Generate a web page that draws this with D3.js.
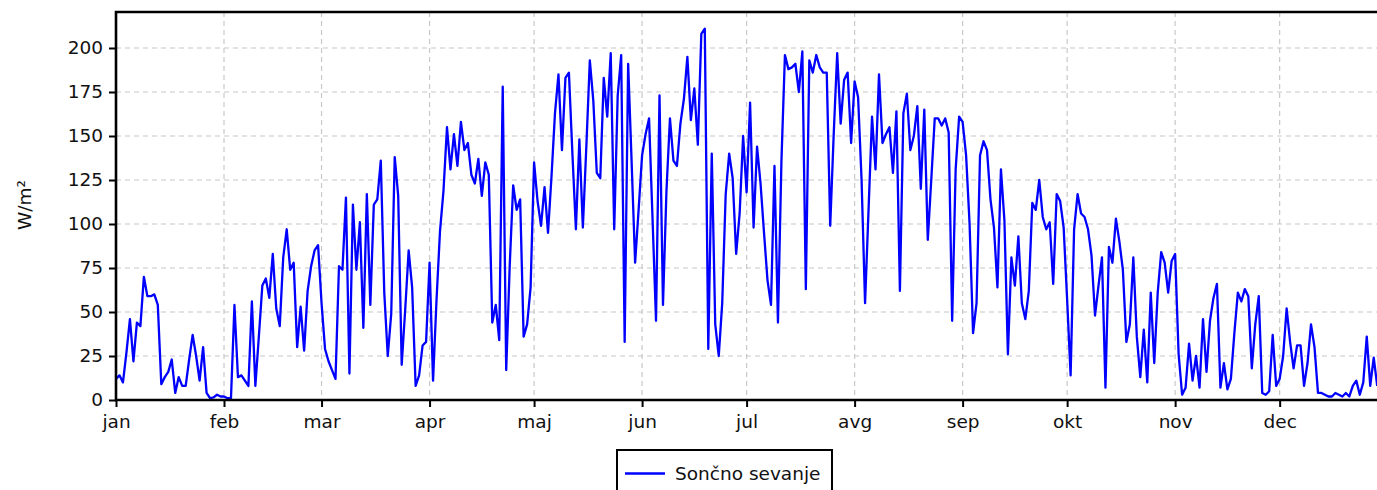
<!DOCTYPE html>
<html><head><meta charset="utf-8">
<script src="https://cdn.jsdelivr.net/npm/d3@7"></script>
<style>html,body{margin:0;padding:0;background:#fff;overflow:hidden;}svg{display:block;}</style>
</head><body>
<svg id="c" width="1377" height="490"></svg>
<script>
const seriesName = "Sončno sevanje";
const yTitle = "W/m²";
const monthLabels = ["jan","feb","mar","apr","maj","jun","jul","avg","sep","okt","nov","dec"];
const yTicks = [0,25,50,75,100,125,150,175,200];
const startYear = 2023;
const radiation = [
12,14,10,27,46,22,44,42,70,59,59,60,54,9,13,16,23,4,13,8,8,23,37,25,11,30,4,1,1.5,3,2,
2,1,1,54,13,14,11,8,56,8,36,65,69,58,83,52,42,81,97,74,78,30,53,28,62,76,85,88,
55,29,22,17,12,76,74,115,15,111,74,101,41,117,54,111,114,136,61,25,49,138,116,20,51,85,64,8,14,31,33,
78,11,57,96,119,155,131,151,133,158,142,146,128,123,137,116,135,128,44,54,34,178,17,76,122,108,114,36,43,64,
135,113,99,121,95,127,163,185,142,183,186,140,97,148,98,144,193,170,129,126,183,161,197,97,173,196,33,191,135,78,108,
139,151,160,103,45,173,54,119,160,136,133,157,171,195,159,177,145,208,211,29,140,43,25,55,117,140,126,83,106,150,
118,169,98,144,123,95,68,54,133,44,136,196,188,189,191,175,198,63,193,186,196,189,186,186,99,151,197,157,182,186,146,
181,172,125,55,108,161,131,185,146,151,155,129,164,62,163,174,142,150,167,120,165,91,125,160,160,156,160,152,45,131,161,
158,139,100,38,55,139,147,142,114,98,64,131,102,26,81,65,93,55,46,62,112,108,125,104,97,101,66,117,113,98,
57,14,97,117,106,104,97,82,48,65,81,7,87,78,103,90,74,33,43,81,36,13,40,10,61,21,61,84,78,61,79,
83,26,3,7,32,11,25,7,46,16,45,58,66,7,21,6,12,38,61,56,63,59,18,43,59,4,3,5,37,8,
12,25,52,33,18,31,31,8,21,43,30,4,4,3,2,2,4,3,2,4,2,8,11,3,10,36,8,24,8
];

const svg = d3.select("#c");
const FONT = "Verdana, DejaVu Sans, sans-serif";
const FS = 18.5;
const plotLeft = 116, plotTop = 12, plotBottom = 400;
const pxPerDay = 3.484;
const x = d3.scaleUtc()
  .domain([new Date(Date.UTC(startYear,0,1)), new Date(Date.UTC(startYear,11,31))])
  .range([plotLeft, plotLeft + 364*pxPerDay]);
const y = d3.scaleLinear().domain([0, 220.45]).range([plotBottom, plotTop]);
const plotRight = x.range()[1];

const monthDates = monthLabels.map((m,i)=>new Date(Date.UTC(startYear,i,1)));

// grid
const grid = svg.append("g").attr("stroke","#c8c8c8").attr("stroke-width",1.2).attr("stroke-dasharray","5,4");
grid.selectAll("line.h").data(yTicks.filter(v=>v>0)).join("line").attr("class","h")
  .attr("x1",plotLeft).attr("x2",plotRight).attr("y1",d=>y(d)).attr("y2",d=>y(d));
grid.selectAll("line.v").data(monthDates.slice(1)).join("line").attr("class","v")
  .attr("x1",d=>x(d)).attr("x2",d=>x(d)).attr("y1",plotTop).attr("y2",plotBottom);

// line
const data = radiation.map((v,i)=>({d:new Date(Date.UTC(startYear,0,1+i)), v}));
svg.append("path").datum(data)
  .attr("fill","none").attr("stroke","#0000ff").attr("stroke-width",2.3).attr("stroke-linejoin","round")
  .attr("d", d3.line().x(p=>x(p.d)).y(p=>y(p.v)));

// axes
const yAxis = svg.append("g").attr("transform",`translate(${plotLeft},0)`)
  .call(d3.axisLeft(y).tickValues(yTicks).tickSize(7).tickPadding(6));
const xAxis = svg.append("g").attr("transform",`translate(0,${plotBottom})`)
  .call(d3.axisBottom(x).tickValues(monthDates).tickFormat((d,i)=>monthLabels[i]).tickSize(7).tickPadding(8));
[yAxis,xAxis].forEach(a=>{
  a.select(".domain").remove();
  a.selectAll(".tick line").attr("stroke","#000").attr("stroke-width",2);
  a.selectAll(".tick text").attr("font-family",FONT).attr("font-size",FS).attr("fill","#111");
});

// frame
svg.append("path").attr("fill","none").attr("stroke","#000").attr("stroke-width",2.6)
  .attr("d",`M${plotRight},${plotTop}H${plotLeft}V${plotBottom}H${plotRight}`);
svg.append("line").attr("x1",plotRight).attr("x2",plotRight).attr("y1",plotTop).attr("y2",plotBottom)
  .attr("stroke","#000").attr("stroke-width",2.6);

// y title
svg.append("text").attr("transform","translate(31,205) rotate(-90)")
  .attr("text-anchor","middle").attr("font-family",FONT).attr("font-size",FS).attr("fill","#111")
  .text(yTitle);

// legend
const lg = svg.append("g").attr("transform","translate(617,450)");
lg.append("rect").attr("x",0).attr("y",0).attr("width",215).attr("height",60)
  .attr("fill","#fff").attr("stroke","#000").attr("stroke-width",2);
lg.append("line").attr("x1",8).attr("x2",48).attr("y1",23.5).attr("y2",23.5)
  .attr("stroke","#0000ff").attr("stroke-width",2.3);
lg.append("text").attr("x",58).attr("y",30).attr("font-family",FONT).attr("font-size",FS).attr("fill","#111")
  .text(seriesName);
</script>
</body></html>
